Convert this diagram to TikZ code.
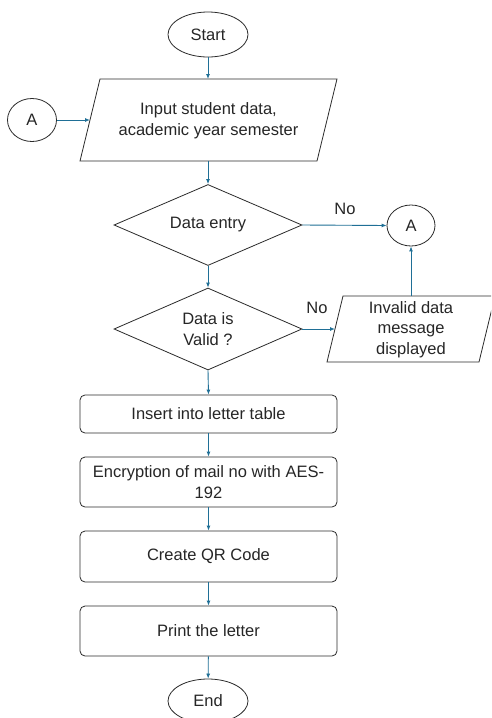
\documentclass[tikz,border=0pt]{standalone}
\usepackage{fontspec}
\setmainfont{Liberation Sans}
\usetikzlibrary{shapes.geometric,arrows.meta}
\definecolor{arrowblue}{HTML}{1F6F96}
\definecolor{shapeline}{HTML}{2B2B2B}
\definecolor{txt}{HTML}{262626}
\begin{document}
\begin{tikzpicture}[x=1pt,y=-1pt,
  every node/.style={font=\fontsize{16.5}{20.5}\selectfont, text=txt},
  outline/.style={draw=shapeline, line width=0.8pt},
  term/.style={outline, ellipse, inner sep=0pt, minimum width=80pt, minimum height=45pt},
  conn/.style={outline, ellipse, inner sep=0pt, minimum width=49pt, minimum height=43pt},
  decision/.style={outline, diamond, aspect=2.3, inner sep=0pt, minimum width=188pt, minimum height=81pt, align=center},
  procbox/.style={outline, rectangle, rounded corners=5pt, inner sep=0pt, minimum width=257pt, align=center},
  flow/.style={draw=arrowblue, line width=0.9pt, -{Latex[length=5pt,width=4pt]}},
  lbl/.style={inner sep=0pt}]
\clip (0,0) rectangle (491,718);
\fill[white] (0,0) rectangle (491,718);

% Start
\node[term] (start) at (208,34.5) {Start};

% Input parallelogram
\draw[outline] (100,79) -- (337,79) -- (317,161) -- (80,161) -- cycle;
\node[align=center, inner sep=0pt] (input) at (208.5,120.5) {Input student data,\\academic year semester};
\coordinate (inTop) at (208,79);
\coordinate (inBot) at (208,161);
\coordinate (inLeft) at (90,120);

% Connector A left
\node[conn] (aL) at (32,120) {A};

% Decision 1
\node[decision] (d1) at (208,225) {Data entry};

% Connector A right
\node[conn, minimum width=48pt, minimum height=41pt] (aR) at (411,225.5) {A};

% Decision 2
\node[decision, minimum height=82pt] (d2) at (208,329) {Data is\\Valid ?};

% Invalid parallelogram
\draw[outline] (343,296) -- (495,296) -- (479,362) -- (327,362) -- cycle;
\node[align=center, inner sep=0pt] (inv) at (411,329.5) {Invalid data\\message\\displayed};
\coordinate (invTop) at (411,296);
\coordinate (invLeft) at (335,329);

% Process boxes
\node[procbox, minimum height=38pt] (p1) at (208.5,414) {Insert into letter table};
\node[procbox, minimum height=50pt] (p2) at (208.5,482) {Encryption of mail no with AES-\\192};
\node[procbox, minimum height=51pt] (p3) at (208.5,556.5) {Create QR Code};
\node[procbox, minimum height=50pt] (p4) at (208.5,631) {Print the letter};

% End
\node[term, minimum height=44pt] (end) at (208,701) {End};

% Labels
\node[lbl] (no1) at (345,209) {No};
\node[lbl] (no2) at (317,308) {No};

% Connectors
\draw[flow] (start) -- (inTop);
\draw[flow] (aL) -- (inLeft);
\draw[flow] (inBot) -- (d1.north);
\draw[flow] (d1.east) -- (aR.west);
\draw[flow] (d1.south) -- (d2.north);
\draw[flow] (d2.east) -- (invLeft);
\draw[flow] (invTop) -- (aR.south);
\draw[flow] (d2.south) -- (p1.north);
\draw[flow] (p1) -- (p2);
\draw[flow] (p2) -- (p3);
\draw[flow] (p3) -- (p4);
\draw[flow] (p4) -- (end);
\end{tikzpicture}
\end{document}
